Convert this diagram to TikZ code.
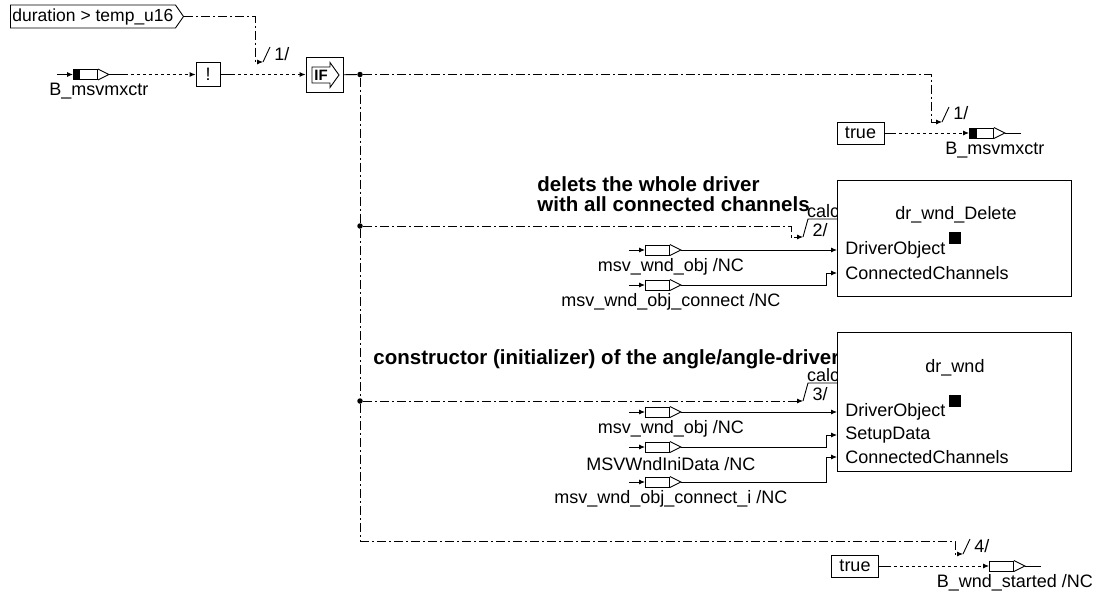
\documentclass[tikz,border=0pt]{standalone}
\usepackage{fontspec}
\setmainfont{Liberation Sans}
\usetikzlibrary{arrows.meta,positioning,shapes.symbols,calc}

% message port: white box, optional black head, triangle, stub and name below
\newcommand{\sigport}[5]{%
  \node[port,anchor=west] (#1) at (#2,#3) {};
  \fill (#1.north west) rectangle ([xshift=#4pt]#1.south west);
  \draw (#1.north east) -- ([xshift=11pt]#1.east) -- (#1.south east);
  \draw ([xshift=11pt]#1.east) -- ++(16,0) coordinate (#1-out);
  \coordinate (#1-in) at ([xshift=-16pt]#1.west);
  \node[lbl] (#1-lb) at ($(#1.west)!0.5!(#1-out)+(0,17)$) {#5};
}

\begin{document}
\begin{tikzpicture}[
  x=1pt,y=-1pt,line width=0.9pt,
  lbl/.style={font=\fontsize{18}{20}\selectfont,inner sep=0pt},
  cmt/.style={font=\fontsize{20.5}{20}\selectfont\bfseries,align=left,inner sep=0pt},
  cst/.style={draw,font=\fontsize{18}{20}\selectfont,minimum width=47pt,minimum height=22pt,inner sep=1pt},
  port/.style={draw,minimum width=24pt,minimum height=10pt,inner sep=0pt},
  blk/.style={draw,fill=white,anchor=north west,minimum width=234pt,inner sep=0pt},
  sq/.style={fill=black,minimum size=12pt,inner sep=0pt},
  jn/.style={circle,fill=black,minimum size=5.5pt,inner sep=0pt},
  ctl/.style={dash pattern=on 9pt off 3pt on 2pt off 3pt},
  dat/.style={dash pattern=on 3pt off 3pt},
  ar/.style={-{Latex[length=6pt,width=5pt]}}
]
\useasboundingbox (0,0) rectangle (1096,597);

% condition and if
\node[draw,signal,signal to=east,signal pointer angle=110,inner xsep=2pt,
      inner ysep=3pt,minimum height=23pt,anchor=west,
      font=\fontsize{17.5}{20}\selectfont] (cond) at (10,16.5) {duration > temp\_u16};
\sigport{pA}{73}{74.5}{7}{B\_msvmxctr}
\draw[ar] (pA-in) -- (pA);
\node[draw,lbl,minimum size=24pt] (notb) at (208,74.5) {!};
\node[draw,minimum width=37pt,minimum height=35pt,inner sep=0pt] (ifb) at (324.5,75) {};
\draw[shift={(ifb.center)}] (-12.5,-8) -- (5.5,-8) -- (5.5,-12.5) -- (14.5,0)
  -- (5.5,12.5) -- (5.5,8) -- (-12.5,8) -- cycle;
\node[font=\fontsize{15}{15}\selectfont\bfseries,inner sep=0pt] (iftx) at ($(ifb.center)+(-3.5,0)$) {IF};
\draw[dat,ar] (pA-out) -- (notb);
\draw (notb.east) -- ++(12,0) coordinate (notb-o);
\draw[dat,ar] (notb-o) -- (notb-o -| ifb.west);

\coordinate (k0) at (263,62);
\draw[ctl,ar] (cond.east) -| ($(k0)+(-8,0)$) -- (k0);
\draw (k0) -- ++(7,-15);
\node[lbl,anchor=west] (q0) at ($(k0)+(11,-8)$) {1/};

% sequence junctions
\node[jn] (j0) at (360,74.5) {};
\node[jn] (j1) at (360,226) {};
\node[jn] (j2) at (360,401) {};
\coordinate (j3) at (360,541);
\draw (ifb) -- (j0);
\draw[ctl] (j0) -- (j1) -- (j2) -- (j3);

% 1/ set B_msvmxctr
\coordinate (kT) at (942,122);
\draw[ctl,ar] (j0) -| ($(kT)+(-11,0)$) -- (kT);
\draw (kT) -- ++(7,-15);
\node[lbl,anchor=west] (qT) at ($(kT)+(11,-9)$) {1/};
\node[cst] (t1) at (860.5,133) {true};
\sigport{pB}{969}{133}{8}{B\_msvmxctr}
\draw (t1.east) -- ++(9,0) coordinate (t1o);
\draw[dat,ar] (t1o) -- (pB);

% 2/ delete
\node[cmt,anchor=north west] (c1) at (537,176) {delets the whole driver\\with all connected channels};
\coordinate (k2) at (803,237);
\draw[ctl,ar] (j1) -| ($(k2)+(-12,0)$) -- (k2);
\node[lbl] (c2l) at ($(k2)+(20,-26)$) {calc};
\node[lbl] (s2) at ($(k2)+(17,-7)$) {2/};
\node[blk,minimum height=116pt] (bDel) at (837,180) {};
\draw (k2) -- ++(5,-18) coordinate (k2t) -- (k2t -| bDel.west);
\node[lbl] (bDel-t) at (956,215) {dr\_wnd\_Delete};
\node[sq] (bDel-s) at (954.5,237.5) {};
\node[lbl,anchor=west] (bDel-p1) at (845,250) {DriverObject};
\node[lbl,anchor=west] (bDel-p2) at (845,273) {ConnectedChannels};
\sigport{pC}{645}{250}{0}{msv\_wnd\_obj /NC}
\sigport{pD}{645}{285}{0}{msv\_wnd\_obj\_connect /NC}
\draw[ar] (pC-in) -- (pC);
\draw[ar] (pD-in) -- (pD);
\draw[ar] (pC-out) -- (pC-out -| bDel.west);
\draw[ar] (pD-out) -| ($(bDel.west |- bDel-p2.west)+(-11,0)$) -- (bDel.west |- bDel-p2.west);

% 3/ constructor
\node[cmt,anchor=base west] (c2) at (373,364) {constructor (initializer) of the angle/angle-driver};
\coordinate (k3) at (803,401);
\draw[ctl,ar] (j2) -- (k3);
\node[lbl] (c3l) at ($(k3)+(20,-26)$) {calc};
\node[lbl] (s3) at ($(k3)+(17,-7)$) {3/};
\node[blk,minimum height=139pt] (bWnd) at (837,332) {};
\draw (k3) -- ++(5,-18) coordinate (k3t) -- (k3t -| bWnd.west);
\node[lbl] (bWnd-t) at (955,368) {dr\_wnd};
\node[sq] (bWnd-s) at (954.5,401) {};
\node[lbl,anchor=west] (bWnd-p1) at (845,412) {DriverObject};
\node[lbl,anchor=west] (bWnd-p2) at (845,435) {SetupData};
\node[lbl,anchor=west] (bWnd-p3) at (845,457) {ConnectedChannels};
\sigport{pE}{645}{412}{0}{msv\_wnd\_obj /NC}
\sigport{pF}{645}{447}{0}{MSVWndIniData /NC}
\sigport{pG}{645}{482}{0}{msv\_wnd\_obj\_connect\_i /NC}
\draw[ar] (pE-in) -- (pE);
\draw[ar] (pF-in) -- (pF);
\draw[ar] (pG-in) -- (pG);
\draw[ar] (pE-out) -- (pE-out -| bWnd.west);
\draw[ar] (pF-out) -| ($(bWnd.west |- bWnd-p2.west)+(-11,0)$) -- (bWnd.west |- bWnd-p2.west);
\draw[ar] (pG-out) -| ($(bWnd.west |- bWnd-p3.west)+(-11,0)$) -- (bWnd.west |- bWnd-p3.west);

% 4/ started flag
\coordinate (k4) at (963,554);
\draw[ctl,ar] (j3) -| ($(k4)+(-8,0)$) -- (k4);
\draw (k4) -- ++(7,-15);
\node[lbl,anchor=west] (q4) at ($(k4)+(11,-8)$) {4/};
\node[cst] (t2) at (855,566) {true};
\sigport{pH}{989}{566}{0}{B\_wnd\_started /NC}
\draw (t2.east) -- ++(9,0) coordinate (t2o);
\draw[dat,ar] (t2o) -- (pH);
\end{tikzpicture}
\end{document}
